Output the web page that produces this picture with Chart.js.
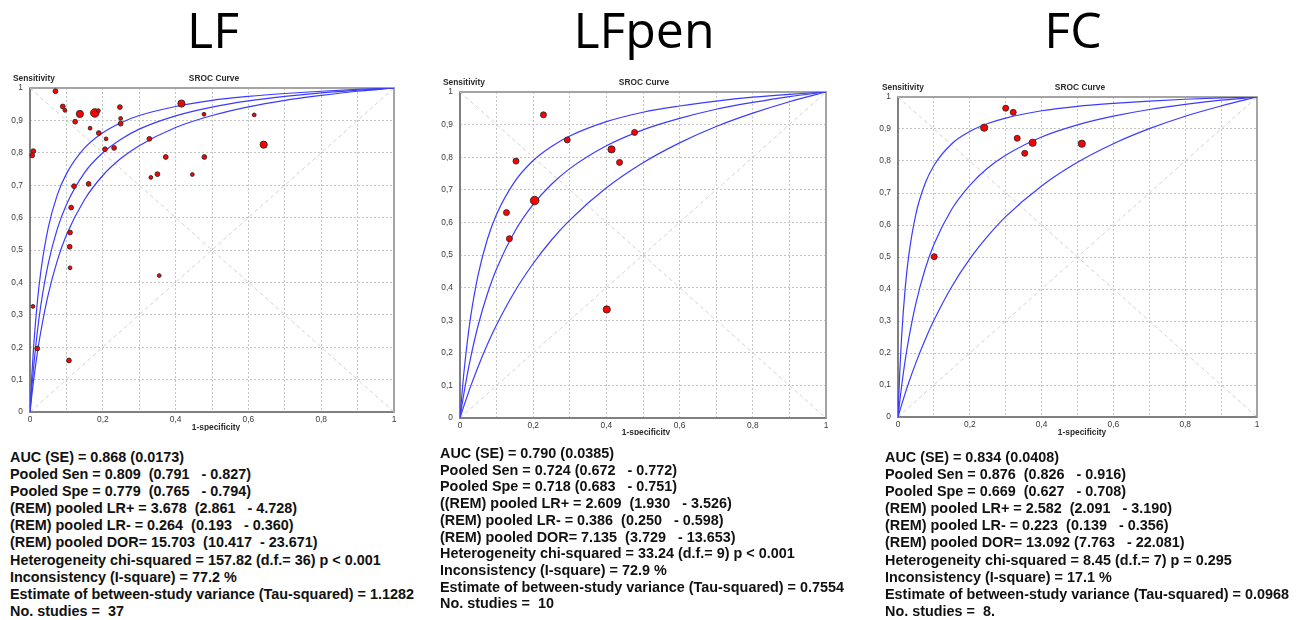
<!DOCTYPE html>
<html>
<head>
<meta charset="utf-8">
<title>SROC curves</title>
<script src="https://cdn.jsdelivr.net/npm/chart.js@4.4.1/dist/chart.umd.min.js"></script>
<style>
  body { margin: 0; width: 1306px; height: 620px; background: #fff; position: relative; overflow: hidden; }
  .title { position: absolute; font-family: "Open Sans", sans-serif; font-size: 50px; line-height: 1; transform: translateX(-50%); color: #000; white-space: nowrap; }
  .panel { position: absolute; overflow: hidden; }
  .panel canvas { position: absolute; left: 0; top: 0; }
  .lbl { position: absolute; font: bold 8.4px "Liberation Sans", Arial, sans-serif; color: #2b2b2b; white-space: nowrap; line-height: 1; }
  .mid { transform: translateX(-50%); }
  .stats { position: absolute; font: bold 14.4px "Liberation Sans", Arial, sans-serif; white-space: pre; color: #111; }
</style>
</head>
<body>

<div class="title" style="left:213px; top:4px;">LF</div>
<div class="title" style="left:644px; top:4px;">LFpen</div>
<div class="title" style="left:1073px; top:4px;">FC</div>

<div class="panel" id="panel-lf" style="left:0px; top:70px; width:405px; height:361px;">
  <canvas id="chart-lf" width="405" height="361"></canvas>
  <div class="lbl" style="left:13px; top:4px;">Sensitivity</div>
  <div class="lbl mid" style="left:214px; top:4px;">SROC Curve</div>
  <div class="lbl mid" style="left:216px; top:353px;">1-specificity</div>
</div>

<div class="panel" id="panel-lfpen" style="left:435px; top:75px; width:400px; height:360px;">
  <canvas id="chart-lfpen" width="400" height="360"></canvas>
  <div class="lbl" style="left:8px; top:3px;">Sensitivity</div>
  <div class="lbl mid" style="left:209px; top:3px;">SROC Curve</div>
  <div class="lbl mid" style="left:211px; top:353px;">1-specificity</div>
</div>

<div class="panel" id="panel-fc" style="left:872px; top:78px; width:392px; height:362px;">
  <canvas id="chart-fc" width="392" height="362"></canvas>
  <div class="lbl" style="left:10px; top:5px;">Sensitivity</div>
  <div class="lbl mid" style="left:208px; top:5px;">SROC Curve</div>
  <div class="lbl mid" style="left:210px; top:350px;">1-specificity</div>
</div>

<div class="stats" id="stats-lf" style="left:10px; top:449px; line-height:17.1px;"></div>
<div class="stats" id="stats-lfpen" style="left:440px; top:445px; line-height:16.7px;"></div>
<div class="stats" id="stats-fc" style="left:885px; top:449px; line-height:17.1px;"></div>

<script>
// Axis tick labels (comma decimals, as in the original)
const xTickLabels = ['0', '', '0,2', '', '0,4', '', '0,6', '', '0,8', '', '1'];
const yTickLabels = ['0', '0,1', '0,2', '0,3', '0,4', '0,5', '0,6', '0,7', '0,8', '0,9', '1'];

// Reference diagonals
const diagX = [0, 1];
const diagUpY = [0, 1];
const diagDownY = [1, 0];

// SROC curves at these 1-specificity values
const curveFpr = [0, 0.005, 0.01, 0.02, 0.03, 0.05, 0.075, 0.1, 0.15, 0.2, 0.25, 0.3, 0.4, 0.5, 0.6, 0.7, 0.8, 0.9, 1];

const lfUpper = [0, 0.112, 0.202, 0.338, 0.436, 0.568, 0.670, 0.735, 0.815, 0.862, 0.893, 0.915, 0.943, 0.962, 0.974, 0.983, 0.990, 0.996, 1];
const lfMid   = [0, 0.074, 0.139, 0.246, 0.331, 0.457, 0.565, 0.640, 0.739, 0.800, 0.842, 0.873, 0.914, 0.941, 0.960, 0.974, 0.985, 0.993, 1];
const lfLower = [0, 0.052, 0.098, 0.181, 0.250, 0.362, 0.467, 0.546, 0.656, 0.730, 0.783, 0.822, 0.878, 0.915, 0.942, 0.962, 0.977, 0.990, 1];

const lfpenUpper = [0, 0.070, 0.132, 0.234, 0.317, 0.441, 0.549, 0.625, 0.726, 0.790, 0.833, 0.865, 0.909, 0.938, 0.957, 0.972, 0.984, 0.993, 1];
const lfpenMid   = [0, 0.037, 0.071, 0.134, 0.190, 0.286, 0.381, 0.458, 0.573, 0.655, 0.717, 0.765, 0.835, 0.884, 0.919, 0.947, 0.968, 0.986, 1];
const lfpenLower = [0, 0.018, 0.035, 0.068, 0.100, 0.159, 0.226, 0.286, 0.389, 0.474, 0.546, 0.607, 0.706, 0.783, 0.844, 0.894, 0.935, 0.970, 1];

const fcUpper = [0, 0.142, 0.250, 0.402, 0.505, 0.635, 0.728, 0.786, 0.854, 0.892, 0.917, 0.934, 0.957, 0.971, 0.980, 0.987, 0.993, 0.997, 1];
const fcMid   = [0, 0.050, 0.096, 0.177, 0.245, 0.356, 0.460, 0.539, 0.650, 0.724, 0.778, 0.818, 0.875, 0.913, 0.940, 0.961, 0.977, 0.990, 1];
const fcLower = [0, 0.019, 0.038, 0.074, 0.108, 0.170, 0.240, 0.302, 0.408, 0.494, 0.565, 0.626, 0.722, 0.796, 0.854, 0.901, 0.940, 0.972, 1];

// Individual studies: 1-specificity, sensitivity, relative weight (marker class)
const lfFpr = [0.070, 0.090, 0.096, 0.137, 0.178, 0.188, 0.124, 0.247, 0.249, 0.249, 0.165, 0.189, 0.209, 0.206, 0.231, 0.416, 0.478, 0.616, 0.642, 0.328, 0.373, 0.479, 0.332, 0.350, 0.446, 0.009, 0.006, 0.121, 0.161, 0.113, 0.110, 0.109, 0.110, 0.355, 0.008, 0.020, 0.107];
const lfSens = [0.990, 0.943, 0.931, 0.920, 0.923, 0.930, 0.896, 0.941, 0.906, 0.890, 0.876, 0.861, 0.843, 0.811, 0.815, 0.952, 0.919, 0.917, 0.825, 0.843, 0.787, 0.787, 0.724, 0.734, 0.733, 0.805, 0.792, 0.697, 0.704, 0.631, 0.554, 0.510, 0.445, 0.421, 0.326, 0.196, 0.159];
const lfWeight = [2, 2, 1, 4, 5, 1, 2, 2, 1, 2, 1, 2, 1, 2, 2, 4, 1, 1, 4, 2, 2, 2, 1, 2, 1, 2, 2, 2, 2, 2, 2, 2, 1, 1, 1, 2, 2];

const lfpenFpr = [0.228, 0.293, 0.153, 0.477, 0.414, 0.436, 0.204, 0.127, 0.135, 0.401];
const lfpenSens = [0.930, 0.853, 0.788, 0.876, 0.824, 0.784, 0.667, 0.630, 0.550, 0.333];
const lfpenWeight = [3, 3, 3, 3, 4, 3, 5, 3, 3, 4];

const fcFpr = [0.300, 0.321, 0.240, 0.332, 0.375, 0.353, 0.512, 0.101];
const fcSens = [0.965, 0.952, 0.904, 0.871, 0.857, 0.824, 0.854, 0.501];
const fcWeight = [3, 3, 4, 3, 4, 3, 4, 3];

// Summary text under each plot
const lfStats = [
  'AUC (SE) = 0.868 (0.0173)',
  'Pooled Sen = 0.809  (0.791   - 0.827)',
  'Pooled Spe = 0.779  (0.765   - 0.794)',
  '(REM) pooled LR+ = 3.678  (2.861   - 4.728)',
  '(REM) pooled LR- = 0.264  (0.193   - 0.360)',
  '(REM) pooled DOR= 15.703  (10.417  - 23.671)',
  'Heterogeneity chi-squared = 157.82 (d.f.= 36) p < 0.001',
  'Inconsistency (I-square) = 77.2 %',
  'Estimate of between-study variance (Tau-squared) = 1.1282',
  'No. studies =  37'
];
const lfpenStats = [
  'AUC (SE) = 0.790 (0.0385)',
  'Pooled Sen = 0.724 (0.672   - 0.772)',
  'Pooled Spe = 0.718 (0.683   - 0.751)',
  '((REM) pooled LR+ = 2.609  (1.930   - 3.526)',
  '(REM) pooled LR- = 0.386  (0.250   - 0.598)',
  '(REM) pooled DOR= 7.135  (3.729   - 13.653)',
  'Heterogeneity chi-squared = 33.24 (d.f.= 9) p < 0.001',
  'Inconsistency (I-square) = 72.9 %',
  'Estimate of between-study variance (Tau-squared) = 0.7554',
  'No. studies =  10'
];
const fcStats = [
  'AUC (SE) = 0.834 (0.0408)',
  'Pooled Sen = 0.876  (0.826   - 0.916)',
  'Pooled Spe = 0.669  (0.627   - 0.708)',
  '(REM) pooled LR+ = 2.582  (2.091   - 3.190)',
  '(REM) pooled LR- = 0.223  (0.139   - 0.356)',
  '(REM) pooled DOR= 13.092 (7.763   - 22.081)',
  'Heterogeneity chi-squared = 8.45 (d.f.= 7) p = 0.295',
  'Inconsistency (I-square) = 17.1 %',
  'Estimate of between-study variance (Tau-squared) = 0.0968',
  'No. studies =  8.'
];

// marker radius for each weight class
const RADIUS = [0, 1.9, 2.4, 3.0, 3.6, 4.3];

// Grey frame round the plot area, under the markers
const framePlugin = {
  id: 'frame',
  beforeDatasetsDraw(chart) {
    const { ctx, chartArea: a } = chart;
    ctx.save();
    ctx.lineWidth = 2;
    ctx.strokeStyle = '#a4a4a4';
    ctx.strokeRect(a.left, a.top, a.right - a.left, a.bottom - a.top);
    ctx.strokeStyle = '#808080';
    ctx.beginPath();
    ctx.moveTo(a.left, a.top);
    ctx.lineTo(a.left, a.bottom);
    ctx.lineTo(a.right, a.bottom);
    ctx.stroke();
    ctx.restore();
  }
};

function toXY(xs, ys) {
  return xs.map((x, i) => ({ x: x, y: ys[i] }));
}

function curveSet(ys) {
  return {
    data: toXY(curveFpr, ys),
    showLine: true,
    borderColor: '#3b3bff',
    borderWidth: 1.2,
    pointRadius: 0,
    cubicInterpolationMode: 'monotone',
    fill: false
  };
}

function diagSet(ys) {
  return {
    data: toXY(diagX, ys),
    showLine: true,
    borderColor: '#d2d2d2',
    borderWidth: 1,
    borderDash: [4, 3],
    pointRadius: 0,
    fill: false
  };
}

function axis(labels, size, isX) {
  return {
    type: 'linear',
    min: 0,
    max: 1,
    ticks: {
      stepSize: 0.1,
      autoSkip: false,
      maxRotation: 0,
      padding: isX ? 3 : 7,
      color: '#3a3a3a',
      font: { family: 'Liberation Sans', size: 8.4 },
      callback: (value, index) => labels[index]
    },
    grid: { color: '#c4c4c4', lineWidth: 1, drawTicks: false },
    border: { display: false, dash: [2, 2] },
    afterFit: (scale) => {
      if (isX) scale.height = size; else scale.width = size;
    }
  };
}

function makeSroc(canvasId, fpr, sens, weight, curves, box) {
  const ctx = document.getElementById(canvasId).getContext('2d');
  return new Chart(ctx, {
    type: 'scatter',
    data: {
      datasets: [
        {
          data: toXY(fpr, sens),
          pointRadius: weight.map(w => RADIUS[w]),
          backgroundColor: '#ff0000',
          borderColor: '#2a2a2a',
          borderWidth: 0.9,
          clip: false
        },
        curveSet(curves[0]),
        curveSet(curves[1]),
        curveSet(curves[2]),
        diagSet(diagDownY),
        diagSet(diagUpY)
      ]
    },
    options: {
      responsive: false,
      devicePixelRatio: 1,
      animation: false,
      events: [],
      layout: { padding: { left: 0, right: box.right, top: box.top, bottom: box.bottom } },
      plugins: { legend: { display: false }, tooltip: { enabled: false }, title: { display: false } },
      scales: {
        x: axis(xTickLabels, box.xh, true),
        y: axis(yTickLabels, box.yw, false)
      }
    },
    plugins: [framePlugin]
  });
}

function fillStats(id, lines) {
  document.getElementById(id).textContent = lines.join('\n');
}

makeSroc('chart-lf', lfFpr, lfSens, lfWeight, [lfUpper, lfMid, lfLower],
  { yw: 30, xh: 19, top: 18, right: 11, bottom: 0 });
makeSroc('chart-lfpen', lfpenFpr, lfpenSens, lfpenWeight, [lfpenUpper, lfpenMid, lfpenLower],
  { yw: 25, xh: 17, top: 17, right: 9, bottom: 0 });
makeSroc('chart-fc', fcFpr, fcSens, fcWeight, [fcUpper, fcMid, fcLower],
  { yw: 26, xh: 20, top: 19, right: 7, bottom: 3 });

fillStats('stats-lf', lfStats);
fillStats('stats-lfpen', lfpenStats);
fillStats('stats-fc', fcStats);
</script>
</body>
</html>
